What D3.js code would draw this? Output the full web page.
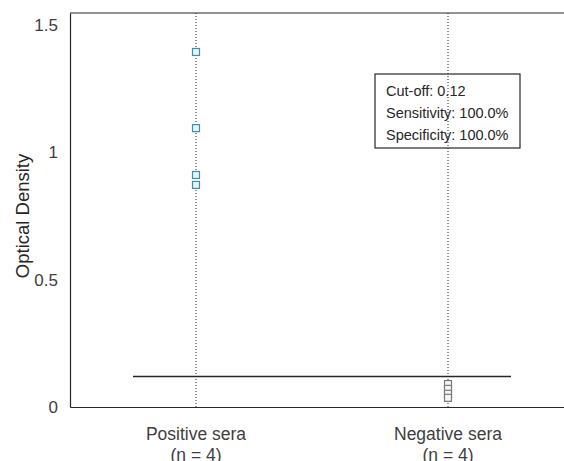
<!DOCTYPE html>
<html>
<head>
<meta charset="utf-8">
<script src="https://cdn.jsdelivr.net/npm/d3@7"></script>
<style>
  body { margin: 0; background: #fff; }
  svg { display: block; font-family: "Liberation Sans", Arial, sans-serif; }
</style>
</head>
<body>
<div id="chart"></div>
<script>
// groups and their measured optical densities
const groups = ["Positive sera", "Negative sera"];
const groupCounts = ["(n = 4)", "(n = 4)"];
const positiveValues = [1.394, 1.095, 0.911, 0.872];
const negativeValues = [0.090, 0.071, 0.052, 0.036];
const cutoff = 0.12;
const yTicks = [0, 0.5, 1, 1.5];
const legendLines = ["Cut-off: 0.12", "Sensitivity: 100.0%", "Specificity: 100.0%"];

const width = 564;
const height = 461;
const margin = { top: 13, left: 70, bottom: 54 };

const svg = d3.select("#chart").append("svg")
  .attr("width", width)
  .attr("height", height);

const x = d3.scaleLinear()
  .domain([0.5, 2.5])
  .range([margin.left, margin.left + 2 * 252]);

const y = d3.scaleLinear()
  .domain([0, 1.547])
  .range([height - margin.bottom, margin.top]);

// top frame line
svg.append("line")
  .attr("x1", x(0.5)).attr("x2", width)
  .attr("y1", y(1.547)).attr("y2", y(1.547))
  .attr("stroke", "#262626").attr("stroke-width", 1.2);

const yAxis = svg.append("g")
  .attr("transform", `translate(${x(0.5)},0)`)
  .call(d3.axisLeft(y).tickValues(yTicks).tickSize(0).tickPadding(12).tickFormat(d3.format("")));
yAxis.select(".domain").attr("stroke", "#262626").attr("stroke-width", 1.2);
yAxis.selectAll("text")
  .attr("fill", "#404040")
  .style("font-size", "17px")
  .style("font-family", "Liberation Sans, Arial, sans-serif");

const xAxis = svg.append("g")
  .attr("transform", `translate(0,${y(0)})`)
  .call(d3.axisBottom(x).tickValues([1, 2]).tickSize(0).tickFormat(() => ""));
xAxis.select(".domain").attr("stroke", "#262626").attr("stroke-width", 1.2);

// group labels
groups.forEach((g, i) => {
  const t = svg.append("text")
    .attr("x", x(i + 1))
    .attr("y", y(0) + 33)
    .attr("text-anchor", "middle")
    .attr("fill", "#404040")
    .style("font-size", "17.5px");
  t.append("tspan").attr("x", x(i + 1)).text(g);
  t.append("tspan").attr("x", x(i + 1)).attr("dy", 21).text(groupCounts[i]);
});

// y label
svg.append("text")
  .attr("transform", "rotate(-90)")
  .attr("x", -y(0.75))
  .attr("y", 29)
  .attr("text-anchor", "middle")
  .attr("fill", "#262626")
  .style("font-size", "18.5px")
  .text("Optical Density");

// cut-off line
svg.append("line")
  .attr("x1", x(0.75)).attr("x2", x(2.25))
  .attr("y1", y(cutoff)).attr("y2", y(cutoff))
  .attr("stroke", "#262626").attr("stroke-width", 1.4);

// legend box
const lg = svg.append("g").attr("transform", "translate(375,74)");
lg.append("rect")
  .attr("width", 145).attr("height", 74)
  .attr("fill", "#fff")
  .attr("stroke", "#262626").attr("stroke-width", 1.2);
legendLines.forEach((s, i) => {
  lg.append("text")
    .attr("x", 11)
    .attr("y", 22 + i * 22)
    .attr("fill", "#262626")
    .style("font-size", "14.5px")
    .text(s);
});

// dotted guide lines
[1, 2].forEach((v) => {
  svg.append("line")
    .attr("x1", x(v)).attr("x2", x(v))
    .attr("y1", y(1.547)).attr("y2", y(0))
    .attr("stroke", "#222")
    .attr("stroke-width", 1)
    .attr("stroke-dasharray", "1,2");
});

// markers
function drawMarkers(values, pos, color, fill) {
  svg.selectAll(null)
    .data(values)
    .enter()
    .append("rect")
    .attr("x", x(pos) - 3.5)
    .attr("y", (d) => y(d) - 3.5)
    .attr("width", 7)
    .attr("height", 7)
    .attr("fill", fill)
    .attr("stroke", color)
    .attr("stroke-width", 1.2);
}
drawMarkers(positiveValues, 1, "#3b8fa8", "#e6f4fa");
drawMarkers(negativeValues, 2, "#7a7a7a", "#f4f4f4");
</script>
</body>
</html>
